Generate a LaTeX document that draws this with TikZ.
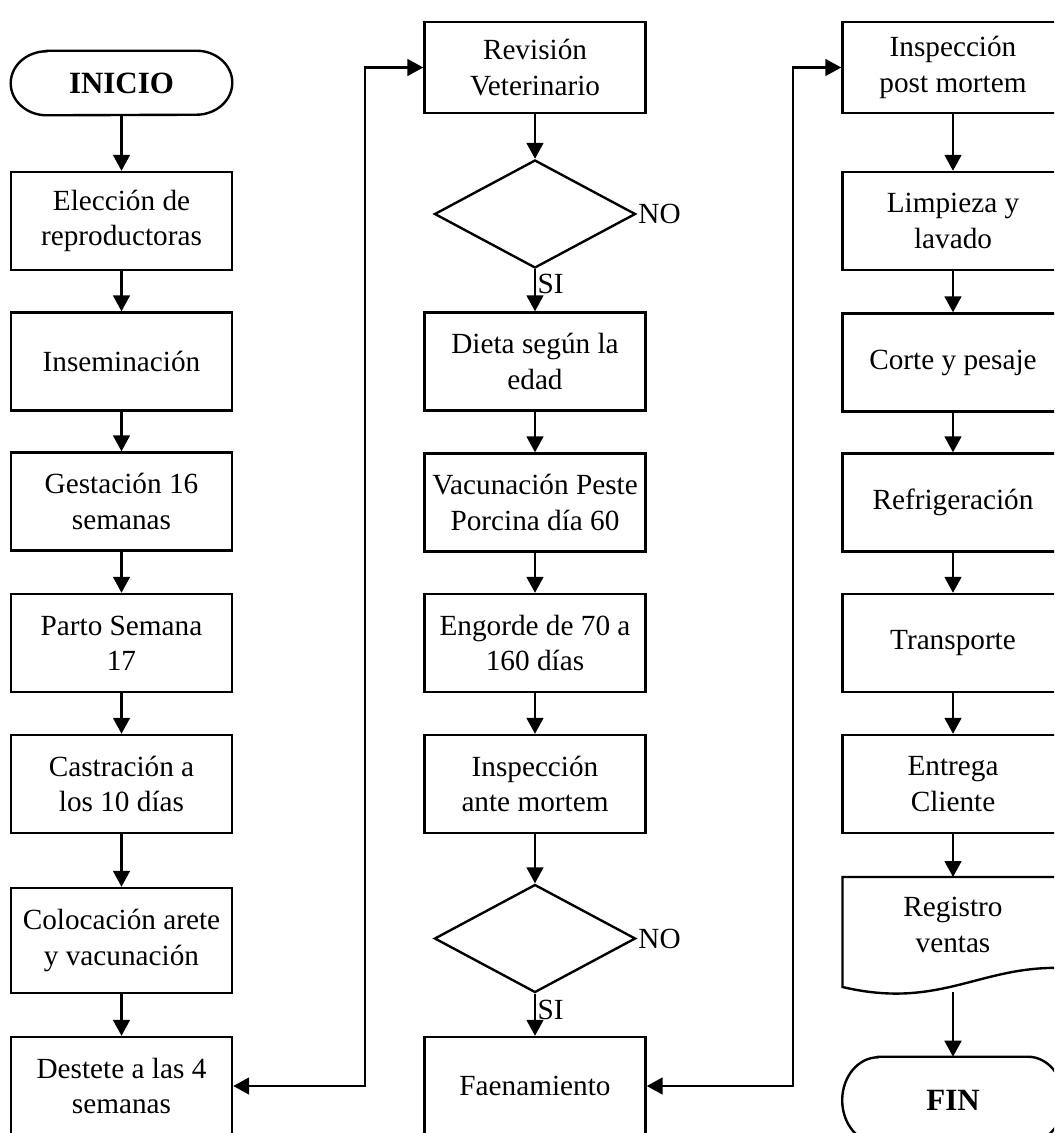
\documentclass[tikz,border=0pt]{standalone}
\usepackage{fontspec}
\setmainfont{Liberation Serif}
\usetikzlibrary{arrows.meta,shapes.geometric}

\tikzset{
	linea/.style={line width=1.7pt},
	paso/.style={linea, draw, minimum width=5.525cm, minimum height=2.45cm,
		inner sep=2pt, align=center, font=\fontsize{20.8}{25}\selectfont},
	terminal/.style={minimum width=5.525cm, inner sep=0pt,
		font=\fontsize{22}{26}\selectfont\bfseries},
	rombo/.style={linea, draw, diamond, minimum width=5.025cm,
		minimum height=2.7cm, inner sep=0pt},
	etiq/.style={inner sep=1pt, font=\fontsize{20.8}{25}\selectfont},
	flecha/.style={linea, -{Triangle[length=.4cm,width=.42cm]}},
	doble/.style={linea, {Triangle[length=.4cm,width=.42cm]}-{Triangle[length=.4cm,width=.42cm]}}
}

\begin{document}
\begin{tikzpicture}[x=0.025cm, y=-0.025cm]
	\clip (0,0) rectangle (1054,1133);

	\node[terminal, minimum height=1.6cm] (inicio) at (121.5,83) {INICIO};
	\draw[linea] ([xshift=.9cm]inicio.north west) -- ([xshift=-.9cm]inicio.north east)
		arc[start angle=90, end angle=-90, x radius=.9cm, y radius=.8cm]
		-- ([xshift=.9cm]inicio.south west)
		arc[start angle=270, end angle=90, x radius=.9cm, y radius=.8cm] -- cycle;

	\node[paso] (eleccion) at (121.5,221) {Elección de\\reproductoras};
	\node[paso] (insem) at (121.5,361.5) {Inseminación};
	\node[paso] (gestacion) at (121.5,501.5) {Gestación 16\\semanas};
	\node[paso] (parto) at (121.5,643) {Parto Semana\\17};
	\node[paso] (castracion) at (121.5,784) {Castración a\\los 10 días};
	\node[paso, minimum height=2.625cm] (arete) at (121.5,940.5) {Colocación arete\\y vacunación};
	\node[paso] (destete) at (121.5,1086) {Destete a las 4\\semanas};

	\node[paso, minimum height=2.275cm] (revision) at (535,67.5) {Revisión\\Veterinario};
	\node[rombo] (dec1) at (535,214) {};
	\node[paso] (dieta) at (535,361.5) {Dieta según la\\edad};
	\node[paso] (vacuna) at (535,502.5) {Vacunación Peste\\Porcina día 60};
	\node[paso] (engorde) at (535,643) {Engorde de 70 a\\160 días};
	\node[paso] (antemortem) at (535,784) {Inspección\\ante mortem};
	\node[rombo] (dec2) at (535,938.5) {};
	\node[paso] (faena) at (535,1086) {Faenamiento};

	\node[paso, minimum height=2.275cm] (postmortem) at (953,67.5) {Inspección\\post mortem};
	\node[paso] (limpieza) at (953,221) {Limpieza y\\lavado};
	\node[paso] (corte) at (953,362.5) {Corte y pesaje};
	\node[paso] (refrig) at (953,502.5) {Refrigeración};
	\node[paso] (transporte) at (953,643) {Transporte};
	\node[paso] (entrega) at (953,784) {Entrega\\Cliente};
	\node[etiq, align=center] (registro) at (953,925) {Registro\\ventas};
	\draw[linea] (842.5,877) -- (1063.5,877) -- (1063.5,968)
		.. controls (980,965) and (940,1010) .. (842.5,987) -- cycle;
	\coordinate (regbajo) at (953,992);

	\node[terminal, minimum height=2.15cm] (fin) at (953,1100) {FIN};
	\draw[linea] ([xshift=.9cm]fin.north west) -- ([xshift=-.9cm]fin.north east)
		arc[start angle=90, end angle=-90, x radius=.9cm, y radius=1.075cm]
		-- ([xshift=.9cm]fin.south west)
		arc[start angle=270, end angle=90, x radius=.9cm, y radius=1.075cm] -- cycle;

	\node[etiq, anchor=west] (no1) at (dec1.east) {NO};
	\node[etiq, anchor=west] (no2) at (dec2.east) {NO};

	\draw[flecha] (inicio.south) -- (eleccion.north);
	\draw[flecha] (eleccion.south) -- (insem.north);
	\draw[flecha] (insem.south) -- (gestacion.north);
	\draw[flecha] (gestacion.south) -- (parto.north);
	\draw[flecha] (parto.south) -- (castracion.north);
	\draw[flecha] (castracion.south) -- (arete.north);
	\draw[flecha] (arete.south) -- (destete.north);

	\draw[flecha] (revision.south) -- (dec1.north);
	\draw[flecha] (dec1.south) -- node[etiq, right, pos=.35] (si1) {SI} (dieta.north);
	\draw[flecha] (dieta.south) -- (vacuna.north);
	\draw[flecha] (vacuna.south) -- (engorde.north);
	\draw[flecha] (engorde.south) -- (antemortem.north);
	\draw[flecha] (antemortem.south) -- (dec2.north);
	\draw[flecha] (dec2.south) -- node[etiq, right, pos=.38] (si2) {SI} (faena.north);

	\draw[flecha] (postmortem.south) -- (limpieza.north);
	\draw[flecha] (limpieza.south) -- (corte.north);
	\draw[flecha] (corte.south) -- (refrig.north);
	\draw[flecha] (refrig.south) -- (transporte.north);
	\draw[flecha] (transporte.south) -- (entrega.north);
	\draw[flecha] (entrega.south) -- (entrega.south |- 877,877);
	\draw[flecha] (regbajo) -- (fin.north);

	\coordinate (vuelta1) at (365,600);
	\coordinate (vuelta2) at (793,600);
	\draw[doble] (destete.east) -| (vuelta1) |- (revision.west);
	\draw[doble] (faena.east) -| (vuelta2) |- (postmortem.west);
\end{tikzpicture}
\end{document}
